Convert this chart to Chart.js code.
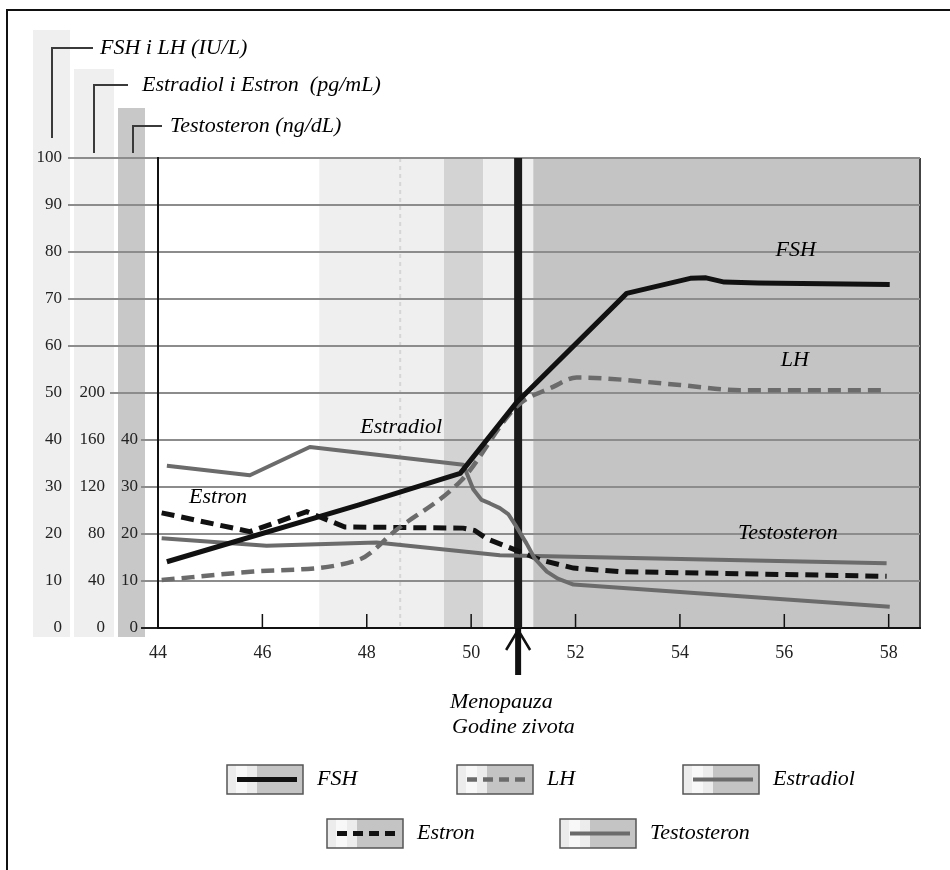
<!DOCTYPE html>
<html>
<head>
<meta charset="utf-8">
<title>Hormoni oko menopauze</title>
<script src="https://cdn.jsdelivr.net/npm/chart.js@4.4.1/dist/chart.umd.min.js"></script>
<style>
  body { margin: 0; background: #ffffff; }
  canvas { display: block; }
</style>
</head>
<body>
<canvas id="hormoni" width="950" height="870"></canvas>
<script>
// Godine zivota
const godine = [44, 46, 48, 50, 52, 54, 56, 58];
const menopauza = 50.9;

// granice faza (pozadina)
const faze = [47.09, 49.48, 50.23, 51.19];
const isprekidana = 48.64;

// podjele na lijevim osama
const fsh_lh_podjela = [0, 10, 20, 30, 40, 50, 60, 70, 80, 90, 100];
const estradiol_podjela = [0, 40, 80, 120, 160, 200];
const testosteron_podjela = [0, 10, 20, 30, 40];
const naslovi_osa = ["FSH i LH (IU/L)", "Estradiol i Estron  (pg/mL)", "Testosteron (ng/dL)"];

// FSH (IU/L)
const fsh_x = [44.17, 47.85, 49.79, 50.88, 52.98, 54.2, 54.5, 54.85, 55.5, 58.02];
const fsh_y = [14.1, 26.2, 32.9, 48.1, 71.2, 74.4, 74.5, 73.6, 73.4, 73.1];

// LH (IU/L)
const lh_x = [44.07, 45.83, 47.84, 48.57, 49.82, 50.87, 51.57, 52.02, 54.0, 55.15, 57.89];
const lh_y = [10.2, 12.0, 14.5, 20.9, 31.5, 47.1, 51.3, 53.3, 51.7, 50.6, 50.6];

// Estradiol (pg/mL)
const estradiol_x = [44.17, 45.76, 46.91, 49.85, 50.04, 50.2, 50.36, 50.55, 50.71, 50.87, 51.06, 51.22, 51.45, 51.66, 51.96, 58.02];
const estradiol_y = [138, 130, 154, 139, 118, 109, 106, 102, 97, 86, 72, 59, 48, 42, 37, 18];

// Estron (pg/mL)
const estron_x = [44.07, 45.76, 46.85, 47.58, 49.85, 50.07, 50.3, 50.93, 51.32, 51.96, 52.85, 57.96];
const estron_y = [98, 82, 99, 86, 85, 83, 76, 65, 58, 51, 48, 44];

// Testosteron (ng/dL)
const testosteron_x = [44.07, 46.08, 48.19, 50.55, 57.96];
const testosteron_y = [19.1, 17.5, 18.2, 15.5, 13.8];

const serif = "'Liberation Serif', 'DejaVu Serif', serif";
const italic = "italic 22px " + serif;

function tacke(xs, ys) {
  return xs.map((x, i) => ({ x: x, y: ys[i] }));
}

// pozadina, trake lijevo, produzene linije mreze
const pozadina = {
  id: "pozadina",
  beforeDraw(chart) {
    const { ctx, chartArea } = chart;
    const x = chart.scales.x;
    const y = chart.scales.y;
    const top = chartArea.top;
    const bottom = chartArea.bottom;
    ctx.save();
    ctx.fillStyle = "#ffffff";
    ctx.fillRect(0, 0, chart.width, chart.height);

    // okvir
    ctx.strokeStyle = "#111111";
    ctx.lineWidth = 2;
    ctx.beginPath();
    ctx.moveTo(7, chart.height);
    ctx.lineTo(7, 10);
    ctx.lineTo(chart.width, 10);
    ctx.stroke();

    // trake iza podjela
    const y1 = chart.scales.y, y2 = chart.scales.y2, y3 = chart.scales.y3;
    ctx.fillStyle = "#efefef";
    ctx.fillRect(y1.left + 3, 30, y1.right - y1.left - 5, bottom + 9 - 30);
    ctx.fillRect(y2.left + 2, 69, y2.right - y2.left - 4, bottom + 9 - 69);
    ctx.fillStyle = "#c8c8c8";
    ctx.fillRect(y3.left + 2, 108, y3.right - y3.left - 15, bottom + 9 - 108);

    // faze
    const boje = ["#efefef", "#d3d3d3", "#efefef", "#c4c4c4"];
    const granice = faze.concat([x.max]);
    for (let i = 0; i < faze.length; i++) {
      const a = x.getPixelForValue(granice[i]);
      const b = x.getPixelForValue(granice[i + 1]);
      ctx.fillStyle = boje[i];
      ctx.fillRect(a, top, b - a, bottom - top);
    }
    ctx.strokeStyle = "#d6d6d6";
    ctx.lineWidth = 2;
    ctx.setLineDash([4, 4]);
    ctx.beginPath();
    ctx.moveTo(x.getPixelForValue(isprekidana), top);
    ctx.lineTo(x.getPixelForValue(isprekidana), bottom);
    ctx.stroke();
    ctx.setLineDash([]);

    // desni rub
    ctx.strokeStyle = "#444444";
    ctx.beginPath();
    ctx.moveTo(chartArea.right, top);
    ctx.lineTo(chartArea.right, bottom);
    ctx.stroke();

    // linije mreze preko traka
    y.ticks.forEach((t) => {
      const py = y.getPixelForValue(t.value);
      let od = 68;
      if (t.value <= 40) od = 141;
      else if (t.value <= 50) od = 110;
      ctx.strokeStyle = t.value === 0 ? "#222222" : "#8c8c8c";
      ctx.beginPath();
      ctx.moveTo(od, py);
      ctx.lineTo(chartArea.left, py);
      ctx.stroke();
    });
    ctx.restore();
  },
  beforeDatasetsDraw(chart) {
    const { ctx, chartArea } = chart;
    const x = chart.scales.x;
    const mx = x.getPixelForValue(menopauza);
    ctx.save();
    ctx.strokeStyle = "#1a1a1a";
    ctx.lineWidth = 8;
    ctx.beginPath();
    ctx.moveTo(mx, chartArea.top);
    ctx.lineTo(mx, chartArea.bottom);
    ctx.stroke();

    // crtice na x osi
    ctx.strokeStyle = "#111111";
    ctx.lineWidth = 1.5;
    godine.forEach((g) => {
      if (g === x.min) return;
      const px = x.getPixelForValue(g);
      ctx.beginPath();
      ctx.moveTo(px, chartArea.bottom);
      ctx.lineTo(px, chartArea.bottom - 14);
      ctx.stroke();
    });
    ctx.restore();
  },
  afterDraw(chart) {
    const { ctx, chartArea } = chart;
    const x = chart.scales.x;
    const y = chart.scales.y;
    const mx = x.getPixelForValue(menopauza);
    ctx.save();

    // strelica
    ctx.strokeStyle = "#111111";
    ctx.lineWidth = 6;
    ctx.beginPath();
    ctx.moveTo(mx, chartArea.bottom);
    ctx.lineTo(mx, chartArea.bottom + 47);
    ctx.stroke();
    ctx.lineWidth = 2.5;
    ctx.beginPath();
    ctx.moveTo(mx - 12, chartArea.bottom + 22);
    ctx.lineTo(mx, chartArea.bottom + 2);
    ctx.lineTo(mx + 12, chartArea.bottom + 22);
    ctx.stroke();

    ctx.fillStyle = "#000000";
    ctx.font = italic;
    ctx.textAlign = "left";
    ctx.textBaseline = "middle";
    ctx.fillText("Menopauza", 450, 702);
    ctx.fillText("Godine zivota", 452, 727);

    // naslovi osa sa zagradama
    const zagrade = [
      [52, 48, 93, 138, 100],
      [94, 85, 128, 153, 142],
      [133, 126, 162, 153, 170],
    ];
    ctx.strokeStyle = "#3a3a3a";
    ctx.lineWidth = 2;
    zagrade.forEach((z, i) => {
      ctx.beginPath();
      ctx.moveTo(z[0], z[3]);
      ctx.lineTo(z[0], z[1]);
      ctx.lineTo(z[2], z[1]);
      ctx.stroke();
      ctx.fillText(naslovi_osa[i], z[4], z[1]);
    });

    // natpisi uz krivulje
    const natpisi = [
      ["FSH", 56.22, 80.4],
      ["LH", 56.2, 57.0],
      ["Estradiol", 48.66, 42.8],
      ["Estron", 45.15, 27.9],
      ["Testosteron", 56.07, 20.2],
    ];
    ctx.textAlign = "center";
    natpisi.forEach((n) => {
      ctx.fillText(n[0], x.getPixelForValue(n[1]), y.getPixelForValue(n[2]));
    });

    // legenda
    const mjesta = [[227, 765], [457, 765], [683, 765], [327, 819], [560, 819]];
    ctx.textAlign = "left";
    chart.data.datasets.forEach((ds, i) => {
      const bx = mjesta[i][0];
      const by = mjesta[i][1];
      ctx.fillStyle = "#c4c4c4";
      ctx.fillRect(bx, by, 76, 29);
      ctx.fillStyle = "#ececec";
      ctx.fillRect(bx, by, 30, 29);
      ctx.fillStyle = "#f8f8f8";
      ctx.fillRect(bx + 9, by, 11, 29);
      ctx.strokeStyle = "#555555";
      ctx.lineWidth = 1.5;
      ctx.setLineDash([]);
      ctx.strokeRect(bx, by, 76, 29);
      ctx.strokeStyle = ds.borderColor;
      ctx.lineWidth = ds.borderWidth;
      ctx.setLineDash(ds.borderDash ? [10, 6] : []);
      ctx.beginPath();
      ctx.moveTo(bx + 10, by + 14.5);
      ctx.lineTo(bx + 70, by + 14.5);
      ctx.stroke();
      ctx.setLineDash([]);
      ctx.fillStyle = "#000000";
      ctx.fillText(ds.label, bx + 90, by + 14);
    });
    ctx.restore();
  },
};

const ctx_hormoni = document.getElementById("hormoni");

new Chart(ctx_hormoni, {
  type: "line",
  data: {
    datasets: [
      {
        label: "FSH",
        data: tacke(fsh_x, fsh_y),
        yAxisID: "y",
        borderColor: "#111111",
        borderWidth: 5,
        tension: 0,
        pointRadius: 0,
        borderJoinStyle: "round",
      },
      {
        label: "LH",
        data: tacke(lh_x, lh_y),
        yAxisID: "y",
        borderColor: "#6b6b6b",
        borderWidth: 4.5,
        borderDash: [13, 7],
        cubicInterpolationMode: "monotone",
        pointRadius: 0,
      },
      {
        label: "Estradiol",
        data: tacke(estradiol_x, estradiol_y),
        yAxisID: "y2",
        borderColor: "#6b6b6b",
        borderWidth: 4,
        tension: 0,
        borderJoinStyle: "round",
        pointRadius: 0,
      },
      {
        label: "Estron",
        data: tacke(estron_x, estron_y),
        yAxisID: "y2",
        borderColor: "#111111",
        borderWidth: 5,
        borderDash: [13, 7],
        tension: 0,
        pointRadius: 0,
      },
      {
        label: "Testosteron",
        data: tacke(testosteron_x, testosteron_y),
        yAxisID: "y3",
        borderColor: "#6b6b6b",
        borderWidth: 4,
        tension: 0,
        borderJoinStyle: "round",
        pointRadius: 0,
      },
    ],
  },
  options: {
    responsive: false,
    animation: false,
    events: [],
    layout: {
      padding: { left: 30, right: 30, top: 158, bottom: 200 },
    },
    scales: {
      x: {
        type: "linear",
        min: 44,
        max: 58.6,
        grid: { display: false },
        border: { display: true, color: "#111111", width: 2 },
        ticks: {
          color: "#222222",
          font: { family: serif, size: 18 },
          padding: 6,
        },
        afterBuildTicks: (scale) => {
          scale.ticks = godine.map((v) => ({ value: v }));
        },
        afterFit: (scale) => {
          scale.height = 42;
        },
      },
      y: {
        position: "left",
        weight: 3,
        min: 0,
        max: 100,
        grid: {
          color: (c) => (c.tick && c.tick.value === 0 ? "rgba(0,0,0,0)" : "#8c8c8c"),
          lineWidth: 2,
          drawTicks: false,
        },
        border: { display: false },
        ticks: {
          color: "#222222",
          font: { family: serif, size: 17 },
          padding: 10,
        },
        afterBuildTicks: (scale) => {
          scale.ticks = fsh_lh_podjela.map((v) => ({ value: v }));
        },
        afterFit: (scale) => {
          scale.width = 42;
        },
      },
      y2: {
        position: "left",
        weight: 2,
        min: 0,
        max: 400,
        grid: { display: false, drawTicks: false },
        border: { display: false },
        ticks: {
          color: "#222222",
          font: { family: serif, size: 17 },
          padding: 11,
        },
        afterBuildTicks: (scale) => {
          scale.ticks = estradiol_podjela.map((v) => ({ value: v }));
        },
        afterFit: (scale) => {
          scale.width = 44;
        },
      },
      y3: {
        position: "left",
        weight: 1,
        min: 0,
        max: 100,
        grid: { display: false, drawTicks: false },
        border: { display: true, color: "#111111", width: 2 },
        ticks: {
          color: "#222222",
          font: { family: serif, size: 17 },
          padding: 20,
        },
        afterBuildTicks: (scale) => {
          scale.ticks = testosteron_podjela.map((v) => ({ value: v }));
        },
        afterFit: (scale) => {
          scale.width = 42;
        },
      },
    },
    plugins: {
      legend: { display: false },
      tooltip: { enabled: false },
    },
  },
  plugins: [pozadina],
});
</script>
</body>
</html>
